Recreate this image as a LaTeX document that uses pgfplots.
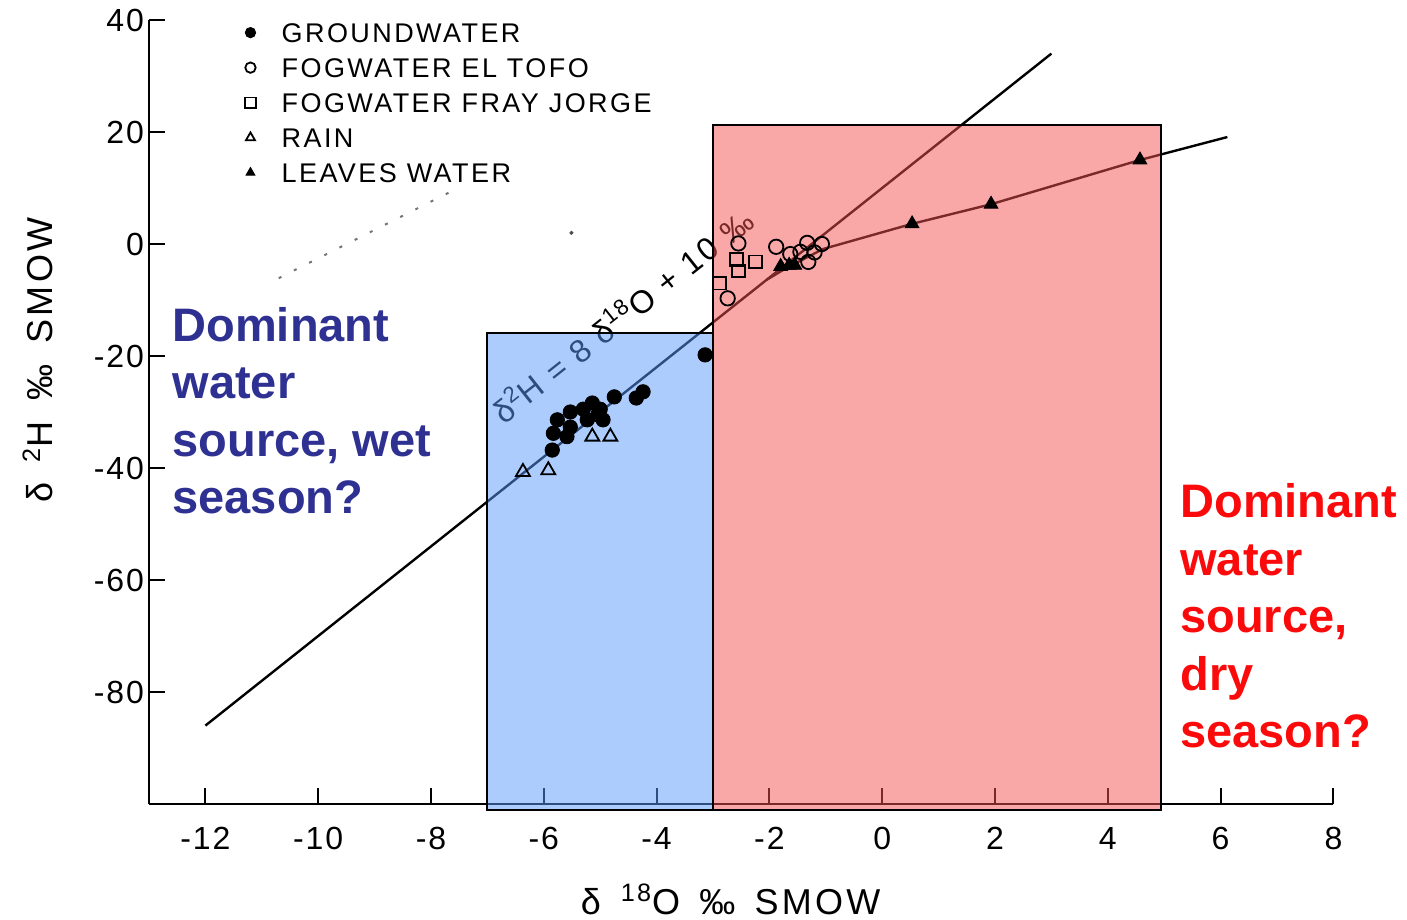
\documentclass[border=0pt]{standalone}
\usepackage{fontspec}
\setmainfont{Liberation Sans}
\newfontfamily\lw[LetterSpace=6]{Liberation Sans}
\newfontfamily\lwl[LetterSpace=9]{Liberation Sans}
\usepackage{pgfplots}
\pgfplotsset{compat=1.18}
\definecolor{boxblue}{RGB}{92,154,254}
\definecolor{boxred}{RGB}{245,80,80}
\definecolor{txtblue}{RGB}{46,49,146}
\definecolor{txtred}{RGB}{250,10,10}
\begin{document}
\begin{tikzpicture}
\path[use as bounding box] (-74.5pt,-58pt) rectangle (629pt,402pt);
\begin{axis}[
  at={(0pt,0pt)}, anchor=south west,
  scale only axis, width=592.2pt, height=392pt,
  xmin=-13, xmax=8, ymin=-100, ymax=40,
  axis lines=left, axis line style={-, line width=1pt},
  clip=false,
  xtick={-12,-10,...,8}, ytick={-80,-60,...,40},
  tick align=inside, major tick length=8pt, tick style={line width=1pt, black},
  /pgf/number format/assume math mode=true,
  ticklabel style={font=\lw\fontsize{16}{19}\selectfont},
  xticklabel style={yshift=-8pt},
  yticklabel style={xshift=1pt},
  xlabel={δ\hspace{10pt}\textsuperscript{18}O\hspace{3pt} ‰\hspace{3pt} SMOW},
  xlabel style={at={(axis description cs:0.491,-0.122)}, anchor=center, font=\lwl\fontsize{18}{21}\selectfont},
  ylabel={δ\hspace{10pt}\textsuperscript{2}H\hspace{4pt} ‰\hspace{4pt} SMOW},
  ylabel style={at={(axis description cs:-0.094,0.566)}, anchor=center, font=\lwl\fontsize{18}{21}\selectfont},
  legend style={at={(axis cs:-11.30,39.6)}, anchor=north west, draw=none, fill=none, inner sep=0pt,
    column sep=8.5pt, row sep=7.5pt,
    nodes={inner xsep=4.5pt, inner ysep=0pt, text height=10pt, text depth=0pt},
    font=\lwl\fontsize{13.5}{16}\selectfont},
  legend cell align=left,
  legend image post style={mark size=2.6pt},
]
% dotted faint line
\addplot[forget plot, black!55, line width=1pt, dash pattern=on 1.5pt off 7pt] coordinates {(-10.7,-6.1) (-7.6,9.6)};
\addplot[forget plot, only marks, mark=*, mark size=0.8pt, black!70] coordinates {(-5.51,2)};
% meteoric water line
\addplot[forget plot, black, line width=1.2pt] coordinates {(-12,-86) (3,34)};
% evaporation line
\addplot[forget plot, black, line width=1.2pt] coordinates {(-2.05,-6.4) (-1.7,-4.3) (-1.05,-0.9) (0.53,3.6) (1.93,7.1) (4.57,15.0) (6.12,19.1)};
% label
\node[rotate=38.4, font=\lwl\fontsize{16}{19}\selectfont, inner sep=0pt] at (axis cs:-4.62,-12.6) {δ\textsuperscript{2}H = 8 δ\textsuperscript{18}O + 10 ‰};
% data
\addplot[only marks, mark=*, mark size=3.6pt, black] coordinates {
(-3.14,-19.8) (-4.24,-26.4) (-4.36,-27.5) (-4.75,-27.3) (-5.14,-28.4) (-5.04,-30.5) (-5.23,-31.4)
(-5.53,-30.0) (-5.53,-32.7) (-5.76,-31.4) (-5.83,-33.8) (-5.59,-34.4) (-5.85,-36.8) (-4.95,-31.4)
(-5.0,-29.5) (-5.3,-29.5)};
\addlegendentry{GROUNDWATER}
\addplot[only marks, mark=o, mark size=3.6pt, black, line width=0.9pt] coordinates {
(-2.55,0.1) (-2.74,-9.7) (-1.88,-0.5) (-1.33,0.2) (-1.07,0.0) (-1.45,-1.4) (-1.31,-3.2) (-1.63,-1.8) (-1.2,-1.5)};
\addlegendentry{FOGWATER EL TOFO}
\addplot[only marks, mark=square, mark size=3.2pt, black, line width=0.9pt] coordinates {
(-2.58,-2.8) (-2.25,-3.2) (-2.88,-7.0) (-2.55,-4.8)};
\addlegendentry{FOGWATER FRAY JORGE}
\addplot[only marks, mark=triangle, mark size=4pt, black, line width=0.9pt] coordinates {
(-6.37,-40.7) (-5.92,-40.4) (-5.14,-34.4) (-4.82,-34.4)};
\addlegendentry{RAIN}
\addplot[only marks, mark=triangle*, mark size=4pt, black] coordinates {
(-1.8,-4.0) (-1.65,-3.8) (-1.55,-3.8) (0.53,3.6) (1.93,7.1) (4.57,15.0)};
\addlegendentry{LEAVES WATER}
% shaded boxes
\addplot[forget plot, fill=boxblue, fill opacity=0.5, draw=black, line width=1pt] coordinates {(-7,-101) (-7,-15.9) (-3,-15.9) (-3,-101)} -- cycle;
\addplot[forget plot, fill=boxred, fill opacity=0.5, draw=black, line width=1pt] coordinates {(-3,-101) (-3,21.3) (4.95,21.3) (4.95,-101)} -- cycle;
% annotations
\node[anchor=north west, align=left, inner sep=0pt, text=txtblue, font=\bfseries\fontsize{23.5}{28.75}\selectfont] at (axis cs:-12.59,-11.25) {Dominant\\water\\source, wet\\season?};
\node[anchor=north west, align=left, inner sep=0pt, text=txtred, font=\bfseries\fontsize{23.5}{28.75}\selectfont] at (axis cs:5.28,-42.7) {Dominant\\water\\source,\\dry\\season?};
\end{axis}
\end{tikzpicture}
\end{document}
